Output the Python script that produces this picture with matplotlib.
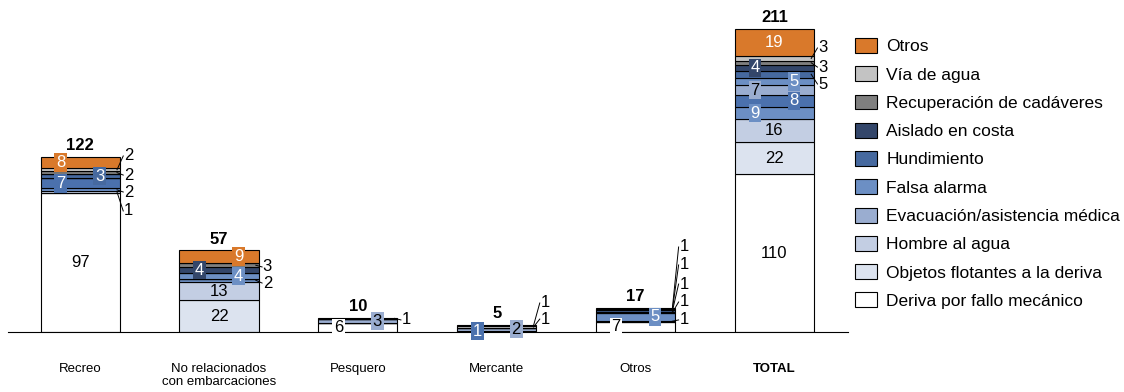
import numpy as np
import matplotlib.pyplot as plt
from matplotlib.patches import Patch
from matplotlib.colors import to_rgb

plt.rcParams['font.family'] = ['Liberation Sans', 'DejaVu Sans']

categories = ['Recreo', 'No relacionados\ncon embarcaciones', 'Pesquero', 'Mercante', 'Otros', 'TOTAL']

# stacking order, bottom to top ('_' = series without legend entry)
series = ['Deriva por fallo mecánico', 'Objetos flotantes a la deriva', 'Hombre al agua',
          '_extra_a', '_extra_b', 'Evacuación/asistencia médica', 'Falsa alarma',
          'Hundimiento', 'Aislado en costa', 'Recuperación de cadáveres', 'Vía de agua', 'Otros']

recreo   = [97, 0, 1, 2, 7, 0, 0, 3, 0, 2, 2, 8]
no_rel   = [0, 22, 13, 2, 0, 0, 4, 0, 4, 3, 0, 9]
pesquero = [6, 0, 0, 0, 0, 3, 0, 0, 0, 0, 0, 1]
mercante = [0, 0, 0, 0, 1, 2, 0, 0, 0, 0, 1, 1]
otros    = [7, 0, 1, 5, 0, 1, 0, 1, 0, 0, 1, 1]
total    = [110, 22, 16, 9, 8, 7, 5, 5, 4, 3, 3, 19]

colors = ['#ffffff', '#dce3ef', '#c3cee3', '#6c8fc4', '#4b71ad', '#9aadd0', '#6c8fc4',
          '#46699f', '#33466a', '#7f7f7f', '#c3c3c3', '#d9792b']

data = np.array([recreo, no_rel, pesquero, mercante, otros, total])

# how each label is placed: c = centred, l/r = boxed left/right, number = outside label at that height
label_pos = [
    {0: 'c', 2: 84.3, 3: 97.5, 4: 'l', 7: 'r', 9: 109.3, 10: 122.6, 11: 'l'},
    {1: 'c', 2: 'c', 3: 34.1, 6: 'r', 8: 'l', 9: 45.3, 11: 'r'},
    {0: 'l', 5: 'r', 11: 8.4},
    {4: 'l', 5: 'r', 10: 9.0, 11: 20.2},
    {0: 'l', 2: 8.4, 3: 'r', 5: 20.9, 7: 33.4, 10: 46.7, 11: 59.2},
    {0: 'c', 1: 'c', 2: 'c', 3: 'l', 4: 'r', 5: 'l', 6: 'r', 7: 172.7, 8: 'l', 9: 184.5, 10: 197.8, 11: 'c'},
]

fs = 12

fig = plt.figure(figsize=(11.24, 3.92), dpi=100)
ax = fig.add_axes([8/1124, 60/392, 840/1124, 308.7/392])

x = np.arange(len(categories))
w = 0.57
bottoms = np.zeros(len(categories))
for j in range(len(series)):
    vals = data[:, j]
    ax.bar(x, vals, w, bottom=bottoms, color=colors[j], edgecolor='black', linewidth=0.8, zorder=2)
    for i in range(len(categories)):
        if vals[i] == 0:
            continue
        pos = label_pos[i].get(j)
        mid = bottoms[i] + vals[i] / 2
        r, g, b = to_rgb(colors[j])
        tc = 'white' if (0.299*r + 0.587*g + 0.114*b) < 0.6 else 'black'
        if pos == 'c':
            ax.text(x[i], mid, str(vals[i]), ha='center', va='center', fontsize=fs, color=tc, zorder=4)
        elif pos in ('l', 'r'):
            dx = -0.14 if pos == 'l' else 0.14
            ax.text(x[i] + dx, mid, str(vals[i]), ha='center', va='center', fontsize=fs, color=tc, zorder=4,
                    bbox=dict(boxstyle='square,pad=0.1', fc=colors[j], ec='none'))
        elif pos is not None:
            edge = x[i] + w / 2
            ax.plot([edge + 0.025, edge - 0.02], [pos, mid], color='black', lw=0.7, zorder=5, clip_on=False)
            ax.text(edge + 0.03, pos, str(vals[i]), ha='left', va='center', fontsize=fs, zorder=4)
    bottoms += vals

for i in range(len(categories)):
    ax.text(x[i], bottoms[i] + 2.5, str(int(bottoms[i])), ha='center', va='bottom',
            fontsize=fs, fontweight='bold', zorder=4)

ax.set_xlim(-0.52, 5.53)
ax.set_ylim(0, 215)
ax.set_yticks([])
ax.set_xticks(x)
ax.set_xticklabels(categories, fontsize=9.5)
ax.get_xticklabels()[-1].set_fontweight('bold')
ax.tick_params(axis='x', length=0, pad=22)
for s in ['top', 'right', 'left']:
    ax.spines[s].set_visible(False)
ax.spines['bottom'].set_linewidth(0.8)

handles = [Patch(facecolor=colors[j], edgecolor='black', linewidth=0.8, label=series[j])
           for j in range(len(series)) if not series[j].startswith('_')][::-1]
fig.legend(handles=handles, loc='upper left', bbox_to_anchor=(855/1124, 1 - 38/392),
           frameon=False, fontsize=12.5, handlelength=1.25, handleheight=0.95,
           handletextpad=0.55, labelspacing=0.68, borderpad=0, borderaxespad=0)

fig.savefig('out.png', dpi=100)
